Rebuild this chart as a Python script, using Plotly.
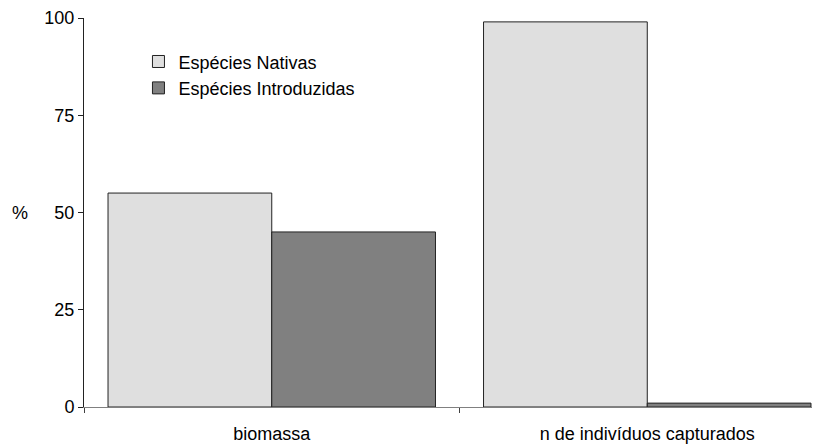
import plotly.graph_objects as go

categories = ["biomassa", "n de indivíduos capturados"]
nativas = [55, 99]
introduzidas = [45, 1]
series_names = ["Espécies Nativas", "Espécies Introduzidas"]
y_ticks = [0, 25, 50, 75, 100]

fig = go.Figure()
fig.add_trace(go.Bar(x=categories, y=nativas, name=series_names[0],
                     marker=dict(color="#dfdfdf", line=dict(color="#222222", width=1))))
fig.add_trace(go.Bar(x=categories, y=introduzidas, name=series_names[1],
                     marker=dict(color="#808080", line=dict(color="#222222", width=1))))

fig.update_layout(
    width=812, height=438,
    margin=dict(l=76, r=0, t=10, b=39),
    plot_bgcolor="white", paper_bgcolor="white",
    barmode="group", bargap=0.128, bargroupgap=0,
    font=dict(family="Liberation Sans, Arial, sans-serif", color="black", size=18),
    legend=dict(x=0.074, y=0.935, xanchor="left", yanchor="top",
                bgcolor="rgba(0,0,0,0)", font=dict(size=18), tracegroupgap=0),
    xaxis=dict(type="category", range=[-0.5, 1.46], showline=True, linecolor="#808080",
               linewidth=1, ticks="outside", tickson="boundaries", ticklen=5,
               tickcolor="#404040", showgrid=False, tickfont=dict(size=18),
               ticklabelstandoff=10),
    yaxis=dict(range=[0, 100], tickvals=y_ticks, showline=True, linecolor="#222222",
               linewidth=1, ticks="outside", ticklen=5, tickcolor="#222222",
               showgrid=False, zeroline=False, tickfont=dict(size=18)),
    annotations=[dict(text="%", xref="paper", yref="paper", x=-0.087, y=0.5,
                      xanchor="center", yanchor="middle", showarrow=False,
                      font=dict(size=18))],
)

fig.write_html("out.html")
